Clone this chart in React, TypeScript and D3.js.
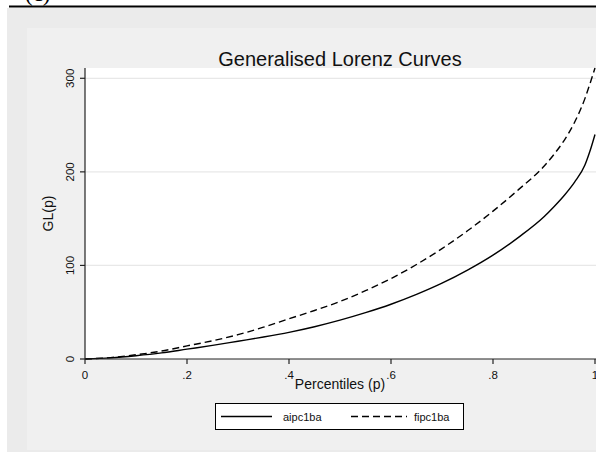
import React from "react";
import * as d3 from "d3";

const percentiles = [0, 0.05, 0.1, 0.15, 0.2, 0.25, 0.3, 0.35, 0.4, 0.45, 0.5, 0.55, 0.6, 0.65, 0.7, 0.75, 0.8, 0.85, 0.9, 0.92, 0.94, 0.96, 0.98, 0.99, 1];
const aipc1ba = [0, 1.2, 3.5, 6.5, 10.5, 14.5, 19, 23.5, 28.5, 34.5, 41.5, 49.5, 58.5, 69, 81, 95, 111, 130, 152, 163, 175, 189, 207, 222, 240];
const fipc1ba = [0, 1.5, 4.5, 8.5, 14, 19.5, 26, 34, 43, 51.8, 61.5, 73, 86, 101, 118, 137, 158, 181, 206, 219, 234, 253, 278, 294, 311];
const xTicks = [0, 0.2, 0.4, 0.6, 0.8, 1];
const xTickLabels = ["0", ".2", ".4", ".6", ".8", "1"];
const yTicks = [0, 100, 200, 300];
const seriesNames = ["aipc1ba", "fipc1ba"];

const W = 596;
const H = 462;
const FONT = "'Liberation Sans', Arial, Helvetica, sans-serif";

export default function App() {
  const x = d3.scaleLinear().domain([0, 1]).range([85, 595]);
  const y = d3.scaleLinear().domain([0, 311]).range([359, 68]);
  const line = d3
    .line<number>()
    .x((_, i) => x(percentiles[i]))
    .y((d) => y(d))
    .curve(d3.curveMonotoneX);

  const [x0, x1] = x.range();
  const [yb, yt] = y.range();

  return (
    <svg
      width={W}
      height={H}
      viewBox={`0 0 ${W} ${H}`}
      style={{ position: "absolute", left: 0, top: 0, background: "#ffffff" }}
    >
      <defs>
        <clipPath id="top-clip">
          <rect x={0} y={0} width={W} height={6} />
        </clipPath>
      </defs>
      {/* partially visible header label */}
      <g clipPath="url(#top-clip)">
        <text x={25} y={0.5} fontFamily="'Liberation Serif', 'Times New Roman', serif" fontSize={23} fill="#000">
          (c)
        </text>
      </g>
      <rect x={7} y={8} width={W - 7} height={444} fill="#ebebeb" />
      <rect x={27} y={28} width={W - 27} height={422} fill="#f0f0f0" />
      <line x1={9} x2={W} y1={6.5} y2={6.5} stroke="#000" strokeWidth={2} />

      {/* plot region */}
      <rect x={x0} y={yt} width={x1 - x0 + 2} height={yb - yt} fill="#ffffff" />
      {yTicks.filter((t) => t > 0).map((t) => (
        <line key={t} x1={x0} x2={x1 + 2} y1={y(t)} y2={y(t)} stroke="#e8e8e8" strokeWidth={1.2} />
      ))}

      {/* title */}
      <text x={340} y={66} textAnchor="middle" fontFamily={FONT} fontSize={20} fill="#111">
        Generalised Lorenz Curves
      </text>

      {/* curves */}
      <path d={line(aipc1ba) || ""} fill="none" stroke="#000" strokeWidth={1.4} />
      <path d={line(fipc1ba) || ""} fill="none" stroke="#000" strokeWidth={1.4} strokeDasharray="7 4" />

      {/* y axis */}
      <line x1={x0} x2={x0} y1={yt} y2={yb} stroke="#222" strokeWidth={1.2} />
      {yTicks.map((t) => (
        <g key={t}>
          <line x1={x0 - 5} x2={x0} y1={y(t)} y2={y(t)} stroke="#222" strokeWidth={1.2} />
          <text
            transform={`translate(${x0 - 15},${y(t)}) rotate(-90)`}
            textAnchor="middle"
            dy="0.35em"
            fontFamily={FONT}
            fontSize={11.5}
            fill="#111"
          >
            {t}
          </text>
        </g>
      ))}
      <text
        transform={`translate(53,${(yt + yb) / 2}) rotate(-90)`}
        textAnchor="middle"
        fontFamily={FONT}
        fontSize={14}
        fill="#111"
      >
        GL(p)
      </text>

      {/* x axis */}
      <line x1={x0} x2={x1 + 2} y1={yb} y2={yb} stroke="#222" strokeWidth={1.2} />
      {xTicks.map((t, i) => (
        <g key={t}>
          <line x1={x(t)} x2={x(t)} y1={yb} y2={yb + 5} stroke="#222" strokeWidth={1.2} />
          <text x={x(t)} y={yb + 20} textAnchor="middle" fontFamily={FONT} fontSize={11.5} fill="#111">
            {xTickLabels[i]}
          </text>
        </g>
      ))}
      <text x={340} y={389} textAnchor="middle" fontFamily={FONT} fontSize={14} fill="#111">
        Percentiles (p)
      </text>

      {/* legend */}
      <rect x={215.5} y={403.5} width={248} height={26} fill="#ffffff" stroke="#000" strokeWidth={1} />
      <line x1={221} x2={272} y1={416.5} y2={416.5} stroke="#000" strokeWidth={1.4} />
      <text x={283} y={420.5} fontFamily={FONT} fontSize={11} fill="#111">
        {seriesNames[0]}
      </text>
      <line x1={351} x2={407} y1={416.5} y2={416.5} stroke="#000" strokeWidth={1.4} strokeDasharray="7 4" />
      <text x={414} y={420.5} fontFamily={FONT} fontSize={11} fill="#111">
        {seriesNames[1]}
      </text>
    </svg>
  );
}
